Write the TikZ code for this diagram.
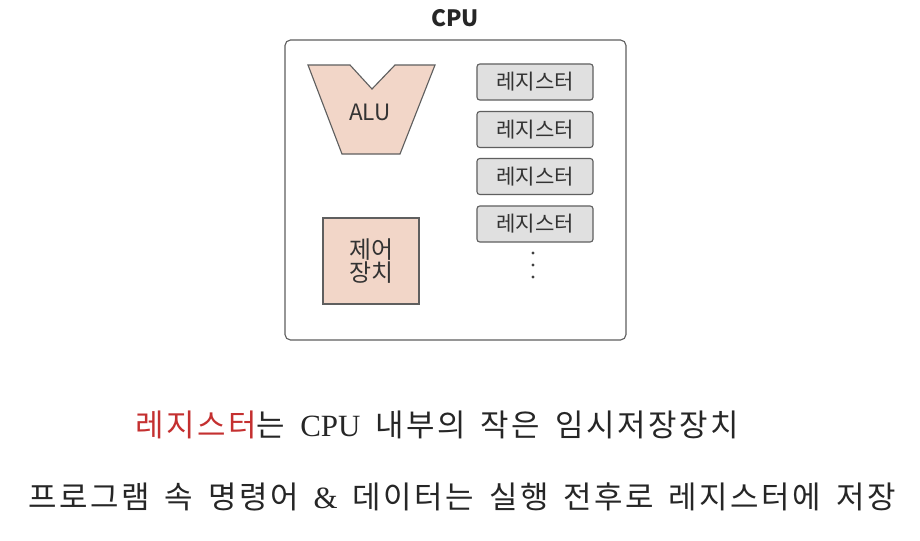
\documentclass[tikz,border=0pt]{standalone}
\usepackage{fontspec}
\usepackage{xcolor}
\usepackage{tikz}
\newfontfamily\krfont{Noto Sans CJK KR}
\newfontfamily\krwide[LetterSpace=8,WordSpace=1.6]{Noto Sans CJK KR}
\newfontfamily\krserif{Liberation Serif}
\definecolor{unitSalmon}{RGB}{242,214,200}
\definecolor{regGray}{RGB}{224,224,224}
\definecolor{edgeGray}{RGB}{95,95,95}
\definecolor{hlRed}{RGB}{196,48,48}

\begin{document}
\begin{tikzpicture}[
  x=0.025cm, y=-0.025cm,
  font=\krfont,
  cpubox/.style={draw=edgeGray, thick, rounded corners=4pt, fill=white,
                 minimum width=8.525cm, minimum height=7.5cm, inner sep=0pt},
  unit/.style={draw=edgeGray, thick, fill=unitSalmon, inner sep=0pt},
  regbox/.style={draw=edgeGray, thick, rounded corners=2pt, fill=regGray,
                 minimum width=2.9cm, minimum height=0.9cm, inner sep=0pt,
                 font=\krfont\fontsize{15}{17}\selectfont, text=black!80},
  caption/.style={font=\krwide\fontsize{22}{26}\selectfont, text=black!85, inner sep=0pt}
]
\useasboundingbox (0,0) rectangle (920,540);

\node[cpubox] (cpu) at (455.5,190) {};
\node[font=\krfont\bfseries\fontsize{16}{18}\selectfont, text=black!85] (cputitle) at (455,18) {CPU};

\draw[unit] (308,65) -- (350,65) -- (372,89) -- (395,65) -- (435,65)
  -- (400,154) -- (342,154) -- cycle;
\node[font=\krfont\fontsize{16}{18}\selectfont, text=black!80] (alu) at (370,112) {ALU};

\node[unit, minimum width=2.4cm, minimum height=2.15cm, align=center,
      font=\krfont\fontsize{17}{16}\selectfont, text=black!80] (ctrl) at (371,261)
  {제어\\장치};

\node[regbox] (reg1) at (535,82) {레지스터};
\node[regbox] (reg2) at (535,129.5) {레지스터};
\node[regbox] (reg3) at (535,176.5) {레지스터};
\node[regbox] (reg4) at (535,224) {레지스터};
\foreach \y in {253,265,277}
  \fill[black!75] (533,\y) circle (1.6);

\node[caption] (line1) at (437,425)
  {\textcolor{hlRed}{레지스터}는 {\krserif CPU} 내부의 작은 임시저장장치};
\node[caption] (line2) at (462,497)
  {프로그램 속 명령어 {\krserif\&} 데이터는 실행 전후로 레지스터에 저장};

\end{tikzpicture}
\end{document}
